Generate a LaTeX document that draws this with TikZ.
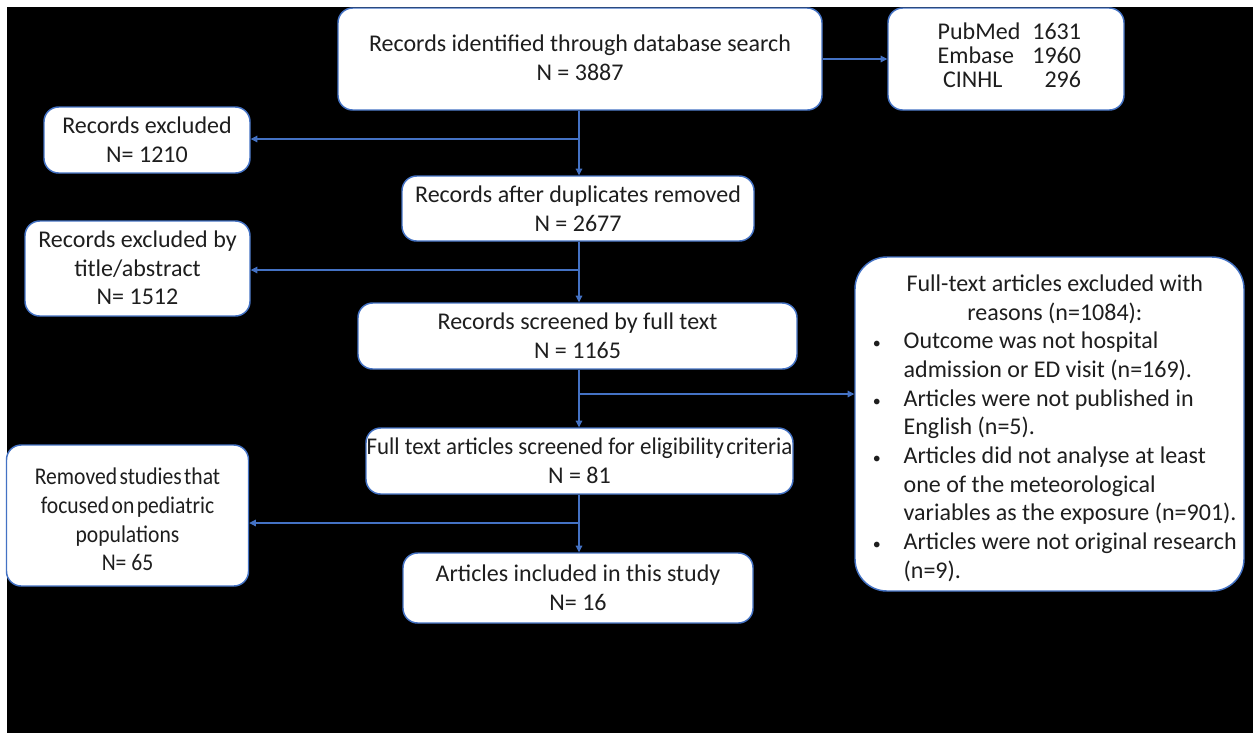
\documentclass[tikz,border=0pt]{standalone}
\usepackage{fontspec}
\setmainfont{Carlito}
\newfontfamily\condfont[FakeStretch=0.9]{Carlito}
\newfontfamily\slimfont[FakeStretch=0.955]{Carlito}
\usetikzlibrary{arrows.meta}
\definecolor{bord}{HTML}{4472C4}
\definecolor{txt}{HTML}{1E1E1E}
\tikzset{
  box/.style={draw=bord, line width=1.1pt, fill=white, rounded corners=11pt,
    inner sep=0pt, align=center, text=txt, font=\fontsize{18}{21.5}\selectfont},
  conn/.style={draw=bord, line width=0.8pt},
  arr/.style={conn, -{Triangle[length=5pt,width=5pt]}}
}
\newcommand\smbul{{\fontsize{12}{12}\selectfont\textbullet}}
\begin{document}
\begin{tikzpicture}[x=0.75pt,y=-0.75pt]
\fill[white] (0,0) rectangle (1253,733);
\fill[black] (7,7) rectangle (1253,733);

\node[box, minimum width=363pt, minimum height=76.5pt] (ident) at (580,59)
  {\raisebox{-1pt}[\height][\depth]{\begin{tabular}{@{}c@{}}Records identified through database search\\N = 3887\end{tabular}}};
\node[box, minimum width=177pt, minimum height=76.5pt, font=\fontsize{18}{18}\selectfont] (db) at (1006,59)
  {\hspace*{5pt}\begin{tabular}{@{}l@{\hspace{0.5em}}r@{}}PubMed & 1631\\ Embase & 1960\\ \hspace{4pt}CINHL & 296\hspace{3pt}\end{tabular}};
\node[box, minimum width=154.5pt, minimum height=49.5pt] (excl1) at (147,140)
  {Records excluded\\N= 1210};
\node[box, minimum width=264pt, minimum height=48.75pt] (dup) at (578,208.5)
  {Records after duplicates removed\\N = 2677};
\node[box, minimum width=168.75pt, minimum height=71.25pt] (excl2) at (137.5,268.5)
  {\raisebox{-1.5pt}[\height][\depth]{\begin{tabular}{@{}c@{}}Records excluded by\\title/abstract\\N= 1512\end{tabular}}};
\node[box, minimum width=329.25pt, minimum height=49.5pt] (screen) at (577.5,336)
  {Records screened by full text\\N = 1165};
\node[box, minimum width=291.75pt, minimum height=250.5pt, rounded corners=24pt] (ftexcl) at (1049.5,424)
  {\hspace*{8pt}\raisebox{-3.75pt}[\height][\depth]{\begin{tabular}{@{}p{23pt}@{}l@{}}
   \multicolumn{2}{c}{Full-text articles excluded with}\\
   \multicolumn{2}{c}{reasons (n=1084):}\\
   \smbul & Outcome was not hospital\\
   & admission or ED visit (n=169).\\
   \smbul & Articles were not published in\\
   & English (n=5).\\
   \smbul & Articles did not analyse at least\\
   & one of the meteorological\\
   & variables as the exposure (n=901).\\
   \smbul & Articles were not original research\\
   & (n=9).
   \end{tabular}}};
\node[box, minimum width=320.25pt, minimum height=49.5pt] (elig) at (579.5,461)
  {{\slimfont Full text articles screened for eligibility{\hspace{0.1em}}criteria}\\N = 81};
\node[box, minimum width=181.5pt, minimum height=105.75pt, font=\condfont\fontsize{18}{21.5}\selectfont] (removed) at (127.5,515.5)
  {\raisebox{-5pt}[\height][\depth]{\begin{tabular}{@{}c@{}}{\spaceskip=0.1em Removed studies that}\\{\spaceskip=0.1em focused on pediatric}\\populations\\N= 65\end{tabular}}};
\node[box, minimum width=262.5pt, minimum height=52.5pt] (incl) at (578,588)
  {\raisebox{-1.5pt}[\height][\depth]{\begin{tabular}{@{}c@{}}Articles included in this study\\N= 16\end{tabular}}};

\coordinate (j1) at (579,139);
\coordinate (j2) at (579,270);
\coordinate (j3) at (579,394);
\coordinate (j4) at (579,523);

\draw[arr] (ident.east) -- (db.west);

\draw[conn] (ident.south -| j1) -- (j1);
\draw[arr] (j1) -- (dup.north -| j1);
\draw[arr] (j1) -- (j1 -| excl1.east);

\draw[conn] (dup.south -| j2) -- (j2);
\draw[arr] (j2) -- (screen.north -| j2);
\draw[arr] (j2) -- (j2 -| excl2.east);

\draw[conn] (screen.south -| j3) -- (j3);
\draw[arr] (j3) -- (elig.north -| j3);
\draw[arr] (j3) -- (j3 -| ftexcl.west);

\draw[conn] (elig.south -| j4) -- (j4);
\draw[arr] (j4) -- (incl.north -| j4);
\draw[arr] (j4) -- (j4 -| removed.east);
\end{tikzpicture}
\end{document}
